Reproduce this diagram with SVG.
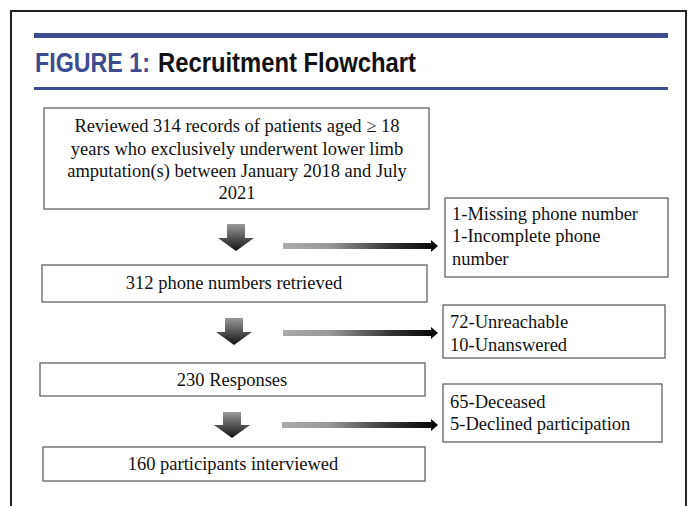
<svg xmlns="http://www.w3.org/2000/svg" width="690" height="506" viewBox="0 0 690 506">
<defs>
<style>
.box{fill:#fff;stroke:#555;stroke-width:1.2}
.t{font-family:"Liberation Serif","Times New Roman",serif;font-size:18.5px;fill:#111}
.c{text-anchor:middle}
.title{font-family:"Liberation Sans",Arial,sans-serif;font-weight:bold;font-size:27px}
</style>
<linearGradient id="dg" x1="0" y1="0" x2="0" y2="1">
<stop offset="0" stop-color="#9a9a9a"/>
<stop offset="1" stop-color="#111"/>
</linearGradient>
<linearGradient id="hg" x1="0" y1="0" x2="1" y2="0">
<stop offset="0" stop-color="#aaa"/>
<stop offset="0.3" stop-color="#999"/>
<stop offset="0.7" stop-color="#333"/>
<stop offset="1" stop-color="#000"/>
</linearGradient>
</defs>
<rect x="0" y="0" width="690" height="506" fill="#fff"/>
<path d="M11 506 V11 H686 V506" fill="none" stroke="#222" stroke-width="2"/>
<rect x="34" y="33" width="634" height="5" fill="#3d4b91"/>
<rect x="34" y="87" width="634" height="3" fill="#3d4b91"/>
<text class="title" x="35" y="72" fill="#3d4b91" textLength="115" lengthAdjust="spacingAndGlyphs">FIGURE 1:</text>
<text class="title" x="158" y="72" fill="#111" textLength="258" lengthAdjust="spacingAndGlyphs">Recruitment Flowchart</text>

<g id="n1">
<rect class="box" x="44" y="108" width="385" height="101"/>
<text class="t c" x="237" y="132">Reviewed 314 records of patients aged ≥ 18</text>
<text class="t c" x="237" y="155">years who exclusively underwent lower limb</text>
<text class="t c" x="237" y="177">amputation(s) between January 2018 and July</text>
<text class="t c" x="237" y="199">2021</text>
</g>
<g id="n2">
<rect class="box" x="42" y="265" width="385" height="37"/>
<text class="t c" x="234" y="289">312 phone numbers retrieved</text>
</g>
<g id="n3">
<rect class="box" x="40" y="363" width="385" height="33"/>
<text class="t c" x="232" y="386">230 Responses</text>
</g>
<g id="n4">
<rect class="box" x="43" y="447" width="382" height="34"/>
<text class="t c" x="233" y="470">160 participants interviewed</text>
</g>
<g id="e1">
<rect class="box" x="445" y="198" width="223" height="79"/>
<text class="t" x="452" y="220">1-Missing phone number</text>
<text class="t" x="452" y="242">1-Incomplete phone</text>
<text class="t" x="452" y="265">number</text>
</g>
<g id="e2">
<rect class="box" x="443" y="305" width="222" height="53"/>
<text class="t" x="450" y="328">72-Unreachable</text>
<text class="t" x="450" y="351">10-Unanswered</text>
</g>
<g id="e3">
<rect class="box" x="443" y="384" width="219" height="58"/>
<text class="t" x="450" y="408">65-Deceased</text>
<text class="t" x="450" y="430">5-Declined participation</text>
</g>

<g id="connectors">
<path d="M227 224 H245 V238 H254 L236 251 L218 238 H227 Z" fill="url(#dg)"/>
<path d="M225 318 H243 V332 H252 L234 345 L216 332 H225 Z" fill="url(#dg)"/>
<path d="M223 412 H241 V425 H250 L232 438 L214 425 H223 Z" fill="url(#dg)"/>
<path d="M283 243 H431 V240 L438 246 L431 252 V249 H283 Z" fill="url(#hg)"/>
<path d="M283 330 H431 V327 L438 333 L431 339 V336 H283 Z" fill="url(#hg)"/>
<path d="M282 422 H431 V419 L438 425 L431 431 V428 H282 Z" fill="url(#hg)"/>
</g>
</svg>
